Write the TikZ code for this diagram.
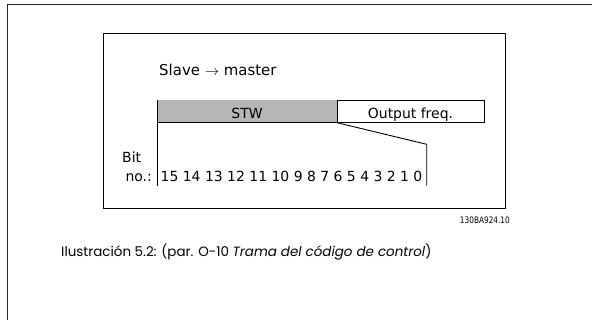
\documentclass[tikz,border=0pt]{standalone}
\usepackage{fontspec}
\setmainfont{DejaVu Sans}
\newfontfamily\capfont{Poppins}
\newfontfamily\condfont[FakeStretch=0.82]{DejaVu Sans}
\definecolor{stwgray}{RGB}{180,182,184}
\begin{document}
\begin{tikzpicture}[x=1bp,y=-1bp,
  lbl/.style={inner sep=0pt, font=\fontsize{14}{16}\selectfont},
  fieldbox/.style={inner sep=0pt, minimum height=22.8bp, anchor=north west}]
\useasboundingbox (0,0) rectangle (592,320);
% outer page frame
\draw[line width=1.5bp, black!85] (592,4.3) -- (7.3,4.3) -- (7.3,320);
% inner frame
\node[draw, line width=0.9bp, inner sep=0pt, minimum width=402bp, minimum height=174.4bp, anchor=north west] (frame) at (103.3,33.3) {};
% fields
\node[fieldbox, fill=stwgray, minimum width=179bp] (stw) at (157.7,99.5) {};
\node[fieldbox, draw, line width=0.9bp, minimum width=147.6bp] (out) at (336.7,99.5) {};
\node[lbl, anchor=base] (stwt) at (247,118.5) {STW};
\node[lbl, anchor=base] (outt) at (410.5,118.5) {Output freq.};
% bit range lines
\coordinate (lb) at (157.7,185.7);
\coordinate (rt) at (426.7,144.3);
\coordinate (rb) at (426.7,185.7);
\draw[line width=0.9bp] (stw.north west) -- (lb);
\draw[line width=0.9bp] (stw.south west) -- (stw.south east);
\draw[line width=0.9bp] (stw.south east) -- (rt) -- (rb);
% texts
\node[inner sep=0pt, anchor=base west, font=\fontsize{15}{17}\selectfont] (slave) at (159,75) {Slave $\rightarrow$ master};
\node[lbl, anchor=base west] (bit) at (122,162) {Bit};
\node[lbl, anchor=base east] (no) at (152,181.5) {no.:};
\node[lbl, anchor=base west] (bits) at (160.5,181.5) {15 14 13 12 11 10 9 8 7 6 5 4 3 2 1 0};
\node[inner sep=0pt, anchor=base east, font=\condfont\fontsize{9}{10}\selectfont] (ref) at (510,223.5) {130BA924.10};
\node[inner sep=0pt, anchor=base west, font=\capfont\fontsize{13.5}{15}\selectfont] (cap) at (61,256) {Ilustración 5.2: (par. O-10 \textit{Trama del código de control})};
\end{tikzpicture}
\end{document}
